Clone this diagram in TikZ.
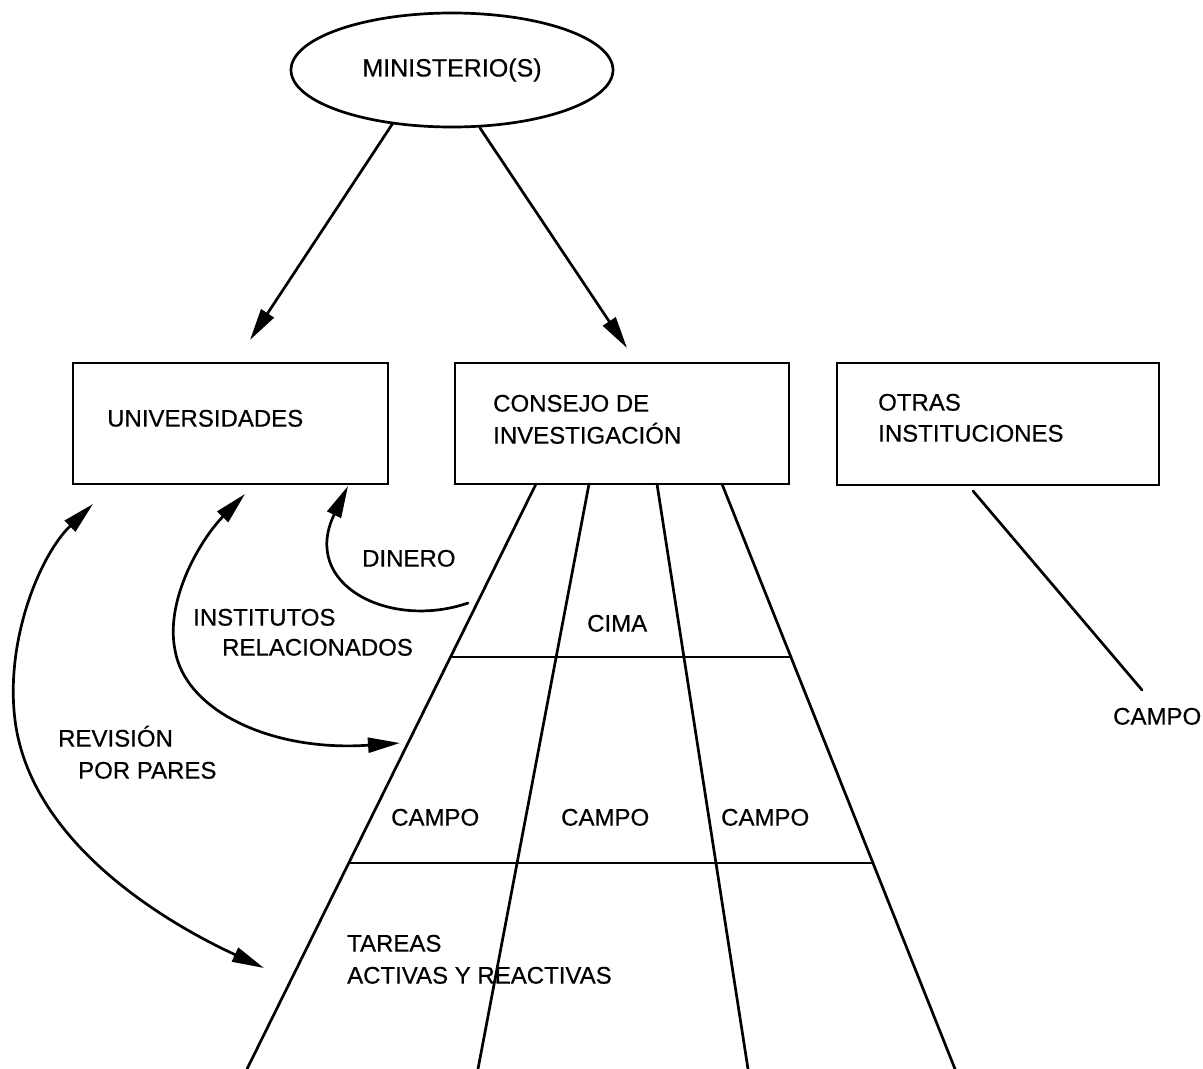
\documentclass[tikz,border=0pt]{standalone}
\usepackage{fontspec}
\setmainfont{Liberation Sans}
\newfontfamily\scanfont[FakeBold=0.5]{Liberation Sans}
\usetikzlibrary{shapes.geometric,arrows.meta,calc}
\tikzset{
  ln/.style={line width=2.7pt, line cap=round, line join=round},
  arr/.style={ln, -{Triangle[length=32pt,width=15pt]}},
  darr/.style={ln, {Triangle[length=32pt,width=15pt]}-{Triangle[length=32pt,width=15pt]}},
  boxnode/.style={draw, line width=2.7pt, rectangle, inner sep=0pt},
  lab/.style={anchor=base west, inner sep=0pt, font=\scanfont\fontsize{24}{28}\selectfont},
}
\begin{document}
\begin{tikzpicture}[x=1pt,y=-1pt]
\fill[white] (0,0) rectangle (1203,1069);
\useasboundingbox (0,0) rectangle (1203,1069);

% top ellipse
\node[draw, ellipse, line width=2.7pt, minimum width=322pt, minimum height=114pt, inner sep=0pt,
      font=\scanfont\fontsize{25}{28}\selectfont] (min) at (452,70) {MINISTERIO(S)};

% boxes
\node[boxnode, minimum width=315pt, minimum height=121pt] (univ) at (230.5,423.5) {};
\node[boxnode, minimum width=334pt, minimum height=121pt] (cons) at (622,423.5) {};
\node[boxnode, minimum width=322pt, minimum height=122pt] (otras) at (998,424) {};

% box texts
\node[lab] (tuniv) at (107,426.6) {UNIVERSIDADES};
\node[lab] (tcons1) at (493,411.6) {CONSEJO DE};
\node[lab] (tcons2) at (493,443.6) {INVESTIGACIÓN};
\node[lab] (totr1) at (878,410.6) {OTRAS};
\node[lab] (totr2) at (878,441.6) {INSTITUCIONES};

% arrows from ministry
\coordinate (mL) at (393,123);
\coordinate (tipL) at (250,340);
\coordinate (mR) at (480,128);
\coordinate (tipR) at (627,348);
\draw[arr] (mL) -- (tipL);
\draw[arr] (mR) -- (tipR);

% fan lines
\coordinate (f1a) at (536,484); \coordinate (f1b) at (247,1069);
\coordinate (f2a) at (589,484); \coordinate (f2b) at (478,1069);
\coordinate (f3a) at (657,484); \coordinate (f3b) at (748,1069);
\coordinate (f4a) at (722,484); \coordinate (f4b) at (955,1069);
\draw[ln] (f1a) -- (f1b);
\draw[ln] (f2a) -- (f2b);
\draw[ln] (f3a) -- (f3b);
\draw[ln] (f4a) -- (f4b);
\draw[ln] ($(f1a)!0.2957!(f1b)$) -- ($(f4a)!0.2957!(f4b)$);
\draw[ln] ($(f1a)!0.6479!(f1b)$) -- ($(f4a)!0.6479!(f4b)$);

% fan texts
\node[lab] (cima) at (587,631.6) {CIMA};
\node[lab] (c1) at (391,825.6) {CAMPO};
\node[lab] (c2) at (561,825.6) {CAMPO};
\node[lab] (c3) at (721,825.6) {CAMPO};
\node[lab] (t1) at (347,951.6) {TAREAS};
\node[lab] (t2) at (347,983.6) {ACTIVAS Y REACTIVAS};

% other institutions
\node[lab] (c4) at (1113,724.6) {CAMPO};
\coordinate (o1) at (973,491);
\coordinate (o2) at (1142,690);
\draw[ln] (o1) -- (o2);

% DINERO arrow
\coordinate (d0) at (468,603);
\coordinate (d1) at (348,486);
\draw[arr] (d0) .. controls (390,630) and (300,585) .. (d1);
\node[lab] (din) at (362,566.6) {DINERO};

% INSTITUTOS RELACIONADOS
\coordinate (i0) at (245,494);
\coordinate (i1) at (400,743);
\draw[darr] (i0) .. controls (200,540) and (165,600) .. (175,650)
                 .. controls (185,710) and (270,752) .. (i1);
\node[lab] (ir1) at (193,625.6) {INSTITUTOS};
\node[lab] (ir2) at (222,655.6) {RELACIONADOS};

% REVISION POR PARES
\coordinate (r0) at (93,504);
\coordinate (r1) at (264,968);
\draw[darr] (r0) .. controls (40,555) and (5,640) .. (15,720)
                 .. controls (30,840) and (160,920) .. (r1);
\node[lab] (rp1) at (58,746.6) {REVISIÓN};
\node[lab] (rp2) at (78,778.6) {POR PARES};
\end{tikzpicture}
\end{document}
